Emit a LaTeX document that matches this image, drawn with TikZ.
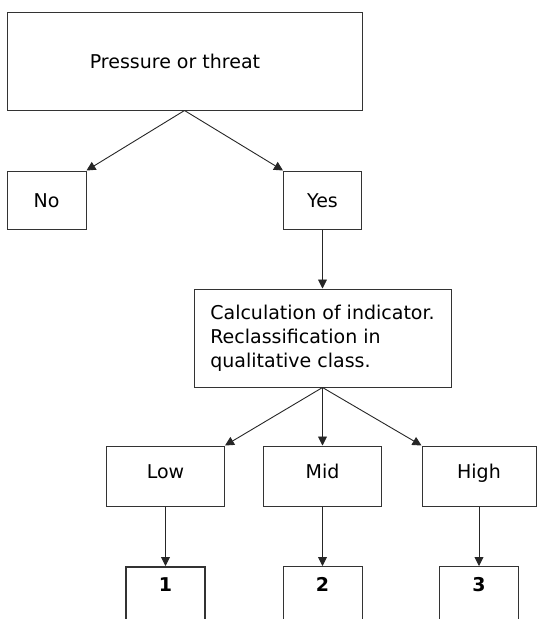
\documentclass[tikz,border=0pt]{standalone}
\usepackage{fontspec}
\setmainfont{DejaVu Sans}
\usetikzlibrary{arrows.meta}

\tikzset{
  box/.style={draw=black!80, line width=1pt, rectangle, inner sep=0pt,
    font=\fontsize{19}{24}\selectfont},
  answer/.style={box, text height=14pt, text depth=0pt},
  level/.style={box, minimum height=60pt, text height=14pt, text depth=10pt},
  classbox/.style={box, anchor=north, minimum width=79pt, text height=25pt,
    text depth=60pt, font=\fontsize{19}{24}\selectfont\bfseries},
  arr/.style={draw=black!85, line width=0.9pt, -{Triangle[length=9pt,width=9pt]}}
}

\begin{document}
\begin{tikzpicture}[x=1pt, y=-1pt]
  \path[use as bounding box, clip] (0,0) rectangle (537,619); % page size

  % Question and the two answers
  \node[answer, minimum width=355pt, minimum height=98pt] (pressure) at (184.5,61) {Pressure or threat\hspace*{19pt}};
  \node[answer, minimum width=79pt, minimum height=58pt] (no) at (46.5,200) {No};
  \node[answer, minimum width=78pt, minimum height=58pt] (yes) at (322.5,200) {Yes};
  \draw[arr] (pressure.south) -- (no.north east);
  \draw[arr] (pressure.south) -- (yes.north west);

  % Indicator step
  \node[box, align=left, minimum width=257pt, minimum height=98pt] (calc) at (322.5,338)
    {Calculation of indicator.\\Reclassification in\\qualitative class.};
  \draw[arr] (yes.south) -- (calc.north);

  % Qualitative classes and their scores
  \foreach \name/\txt/\x/\w/\score/\lw in {low/Low/165.5/118/1/1.8pt, mid/Mid/322.5/118/2/1pt, high/High/479/114/3/1pt} {
    \node[level, minimum width=\w pt] (\name) at (\x,476) {\txt};
    \node[classbox, line width=\lw] (score\score) at (\x,566) {\score};
    \draw[arr] (\name.south) -- (score\score.north); % down to the score
  }
  \draw[arr] (calc.south) -- (low.north east);
  \draw[arr] (calc.south) -- (mid.north);
  \draw[arr] (calc.south) -- (high.north west);
\end{tikzpicture}
\end{document}
